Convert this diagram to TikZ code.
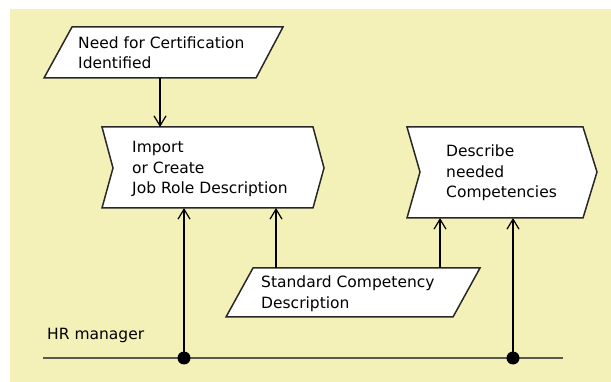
\documentclass[tikz,border=0pt]{standalone}
\usepackage{fontspec}
\setmainfont{DejaVu Sans}
\usetikzlibrary{arrows.meta}
\definecolor{bgyellow}{RGB}{243,241,184}
\definecolor{lanegray}{RGB}{88,88,78}
\definecolor{edgegray}{RGB}{40,40,40}
\begin{document}
\begin{tikzpicture}[x=1pt,y=-1pt,
  shapeline/.style={draw=edgegray, line width=1.5pt, fill=white, line join=miter},
  hit/.style={inner sep=0pt, outer sep=0pt, rectangle},
  lbl/.style={anchor=base west, inner sep=0pt, align=left, font=\fontsize{15.5}{20.5}\selectfont},
  arr/.style={draw=black, line width=1.2pt, -{Straight Barb[length=10pt,width=12pt,line width=1.2pt]}},
  lane/.style={draw=lanegray, line width=2.4pt},
  dotnode/.style={circle, fill=black, inner sep=0pt, minimum size=13pt}]
\useasboundingbox (0,0) rectangle (611,382);
\fill[bgyellow] (10,9) rectangle (611,382);

% shapes
\draw[shapeline] (72,27) -- (283,27) -- (256,78) -- (44,78) -- cycle;
\node[hit, minimum width=239pt, minimum height=51pt] (p1) at (163.5,52.5) {};
\draw[shapeline] (102,127) -- (313,127) -- (324,168) -- (313,208) -- (102,208) -- (113,168) -- cycle;
\node[hit, minimum width=222pt, minimum height=81pt] (b1) at (213,167.5) {};
\draw[shapeline] (407,127) -- (583,127) -- (597,172) -- (583,218) -- (407,218) -- (420,172) -- cycle;
\node[hit, minimum width=190pt, minimum height=91pt] (b2) at (502,172.5) {};
\draw[shapeline] (253,268) -- (480,268) -- (453,317) -- (226,317) -- cycle;
\node[hit, minimum width=254pt, minimum height=49pt] (p2) at (353,292.5) {};

% texts (anchor at the baseline of the last line)
\node[lbl] (t1) at (78,69) {Need for Certification\\Identified};
\node[lbl] (t2) at (132,194) {Import\\or Create\\Job Role Description};
\node[lbl] (t3) at (446,198) {Describe\\needed\\Competencies};
\node[lbl] (t4) at (261,308.5) {Standard Competency\\Description};
\node[lbl] (t5) at (47,339) {HR manager};

% lane
\coordinate (hrL) at (43,358);
\coordinate (hrR) at (563,358);
\draw[lane] (hrL) -- (hrR);

% connectors
\coordinate (a1) at (160,0);
\coordinate (a2) at (276,0);
\coordinate (a3) at (440,0);
\draw[arr] (p1.south -| a1) -- (b1.north -| a1);
\draw[arr] (p2.north -| a2) -- (b1.south -| a2);
\draw[arr] (p2.north -| a3) -- (b2.south -| a3);
\coordinate (d1) at (184,358);
\coordinate (d2) at (513,358);
\draw[arr] (d1) -- (d1 |- b1.south);
\draw[arr] (d2) -- (d2 |- b2.south);
\node[dotnode] (dot1) at (d1) {};
\node[dotnode] (dot2) at (d2) {};
\end{tikzpicture}
\end{document}
